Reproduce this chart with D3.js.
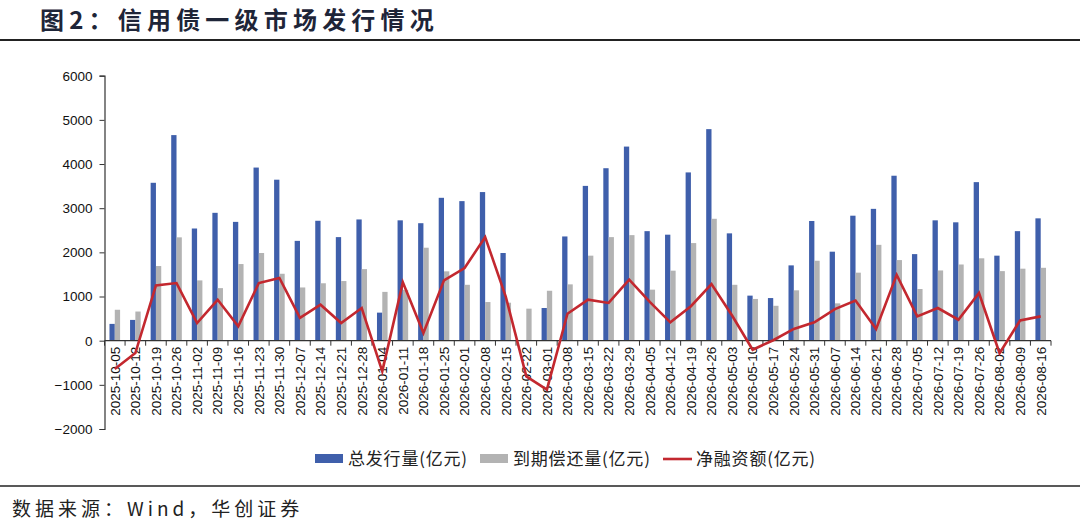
<!DOCTYPE html>
<html>
<head>
<meta charset="utf-8">
<script src="https://cdn.jsdelivr.net/npm/d3@7"></script>
<style>
  body { margin: 0; background: #fff; }
  svg { display: block; }
</style>
</head>
<body>
<svg id="chart" width="1080" height="524"></svg>
<script>
const W = 1080, H = 524;

// data (亿元)
const weeks = [
  "2025-10-05","2025-10-12","2025-10-19","2025-10-26","2025-11-02","2025-11-09","2025-11-16",
  "2025-11-23","2025-11-30","2025-12-07","2025-12-14","2025-12-21","2025-12-28","2026-01-04",
  "2026-01-11","2026-01-18","2026-01-25","2026-02-01","2026-02-08","2026-02-15","2026-02-22",
  "2026-03-01","2026-03-08","2026-03-15","2026-03-22","2026-03-29","2026-04-05","2026-04-12",
  "2026-04-19","2026-04-26","2026-05-03","2026-05-10","2026-05-17","2026-05-24","2026-05-31",
  "2026-06-07","2026-06-14","2026-06-21","2026-06-28","2026-07-05","2026-07-12","2026-07-19",
  "2026-07-26","2026-08-02","2026-08-09","2026-08-16"
];
const issuance = [
  380, 470, 3575, 4655, 2540, 2895, 2690, 3920, 3645, 2260, 2715, 2345, 2745, 635,
  2725, 2660, 3235, 3160, 3365, 1985, 0, 740, 2360, 3505, 3905, 4395, 2480, 2400,
  3810, 4790, 2430, 1020, 965, 1705, 2710, 2015, 2830, 2985, 3735, 1960, 2725, 2680,
  3590, 1925, 2480, 2770
];
const maturity = [
  700, 660, 1690, 2340, 1365, 1190, 1735, 1985, 1515, 1205, 1300, 1350, 1620, 1105,
  1150, 2105, 1570, 1265, 875, 860, 725, 1130, 1275, 1925, 2345, 2390, 1155, 1585,
  2210, 2760, 1265, 945, 790, 1140, 1810, 845, 1540, 2170, 1825, 1170, 1590, 1725,
  1865, 1575, 1630, 1650
];
const netFinancing = [
  -640, -280, 1250, 1305, 400, 925, 325, 1305, 1420, 515, 815, 400, 740, -695,
  1320, 175, 1365, 1645, 2345, 1000, -810, -1110, 610, 930, 855, 1380, 880, 415,
  780, 1280, 570, -205, 10, 265, 415, 715, 910, 265, 1490, 550, 740, 475,
  1080, -285, 460, 550
];
const yTicks = [-2000, -1000, 0, 1000, 2000, 3000, 4000, 5000, 6000];
const seriesNames = ["总发行量(亿元)", "到期偿还量(亿元)", "净融资额(亿元)"];

const blue = "#3f5fab", gray = "#b3b3b3", red = "#c3282f";
const rows = weeks.map((w, i) => ({ w, iss: issuance[i], mat: maturity[i], net: netFinancing[i] }));

const svg = d3.select("#chart");

// title + rules
svg.append("text")
  .attr("x", 40).attr("y", 29)
  .attr("font-family", "Noto Sans CJK SC")
  .attr("font-weight", 700)
  .attr("font-size", 24)
  .attr("letter-spacing", 5.2)
  .attr("fill", "#1e2538")
  .text("图2：信用债一级市场发行情况");
svg.append("line").attr("x1", 0).attr("x2", W).attr("y1", 40).attr("y2", 40)
  .attr("stroke", "#222").attr("stroke-width", 2);
svg.append("line").attr("x1", 0).attr("x2", W).attr("y1", 486).attr("y2", 486)
  .attr("stroke", "#222").attr("stroke-width", 1.5);
svg.append("text")
  .attr("x", 12).attr("y", 516)
  .attr("font-family", "Noto Sans CJK SC")
  .attr("font-size", 19)
  .attr("letter-spacing", 4)
  .attr("fill", "#222")
  .text("数据来源：Wind，华创证券");

// scales
const x = d3.scaleBand().domain(weeks).range([104.5, 1051]).padding(0);
const y = d3.scaleLinear().domain([-2000, 6000]).range([429, 75.7]);
const bw = 5.3;

// bars
svg.append("g").selectAll("rect").data(rows).join("rect")
  .attr("x", d => x(d.w) + x.bandwidth() / 2 - bw)
  .attr("width", bw)
  .attr("y", d => y(Math.max(0, d.iss)))
  .attr("height", d => Math.abs(y(d.iss) - y(0)))
  .attr("fill", blue);

svg.append("g").selectAll("rect").data(rows).join("rect")
  .attr("x", d => x(d.w) + x.bandwidth() / 2)
  .attr("width", bw)
  .attr("y", d => y(Math.max(0, d.mat)))
  .attr("height", d => Math.abs(y(d.mat) - y(0)))
  .attr("fill", gray);

// y axis
const yAxis = d3.axisLeft(y).tickValues(yTicks).tickFormat(d3.format("d")).tickSize(5).tickPadding(7);
const gy = svg.append("g").attr("transform", "translate(104.5,0)").call(yAxis);
gy.select(".domain").attr("stroke", "#333").attr("stroke-width", 1.2);
gy.selectAll(".tick line").attr("stroke", "#333");
gy.selectAll("text")
  .attr("font-family", "Liberation Sans, Arial")
  .attr("font-size", 13.5)
  .attr("fill", "#111");

// x axis at zero, ticks between categories
const gx = svg.append("g").attr("transform", `translate(0,${y(0)})`);
gx.append("line")
  .attr("x1", x.range()[0]).attr("x2", x.range()[1])
  .attr("stroke", "#333").attr("stroke-width", 1.2);
gx.selectAll(".sep").data(weeks.concat(["__end"])).join("line")
  .attr("class", "sep")
  .attr("x1", (d, i) => x.range()[0] + i * x.bandwidth())
  .attr("x2", (d, i) => x.range()[0] + i * x.bandwidth())
  .attr("y1", 0).attr("y2", 5)
  .attr("stroke", "#333");
gx.selectAll(".lbl").data(weeks).join("text")
  .attr("class", "lbl")
  .attr("transform", d => `translate(${x(d) + x.bandwidth() / 2 + 4.8},6) rotate(-90)`)
  .attr("text-anchor", "end")
  .attr("font-family", "Liberation Sans, Arial")
  .attr("font-size", 13.5)
  .attr("fill", "#111")
  .text(d => d);

// net financing line
const line = d3.line()
  .x(d => x(d.w) + x.bandwidth() / 2)
  .y(d => y(d.net));
svg.append("path")
  .datum(rows)
  .attr("fill", "none")
  .attr("stroke", red)
  .attr("stroke-width", 2.6)
  .attr("stroke-linejoin", "miter")
  .attr("d", line);

// legend
const legend = svg.append("g").attr("font-family", "Noto Sans CJK SC").attr("font-size", 17).attr("fill", "#222");
const legX = [315, 480, 663];
legend.append("rect").attr("x", legX[0]).attr("y", 454).attr("width", 28).attr("height", 9).attr("fill", blue);
legend.append("rect").attr("x", legX[1]).attr("y", 454).attr("width", 28).attr("height", 9).attr("fill", gray);
legend.append("line").attr("x1", legX[2]).attr("x2", legX[2] + 29).attr("y1", 459).attr("y2", 459)
  .attr("stroke", red).attr("stroke-width", 2.6);
seriesNames.forEach((s, i) => {
  legend.append("text").attr("x", legX[i] + 33).attr("y", 465).attr("letter-spacing", 0.8).text(s);
});
</script>
</body>
</html>
